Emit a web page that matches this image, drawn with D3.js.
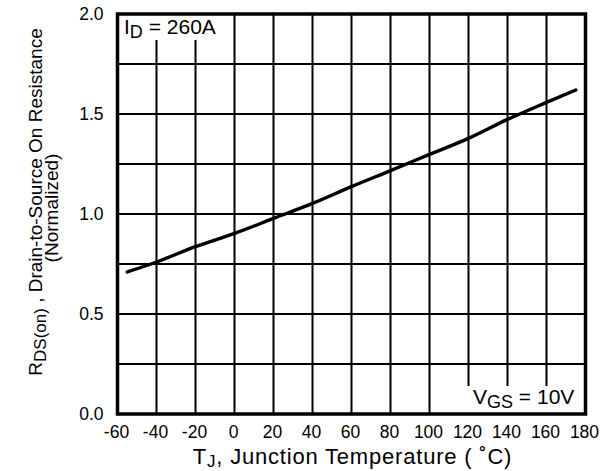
<!DOCTYPE html>
<html><head><meta charset="utf-8">
<script src="https://cdn.jsdelivr.net/npm/d3@7"></script>
<style>body{margin:0;background:#fff;} text{font-family:"Liberation Sans",Arial,sans-serif;fill:#000;}</style>
</head><body>
<svg id="c" width="602" height="471"></svg>
<script>
const temps = [-55, -40, -20, 0, 20, 40, 60, 80, 100, 120, 140, 160, 175];
const rdson = [0.71, 0.76, 0.837, 0.903, 0.978, 1.053, 1.137, 1.217, 1.298, 1.378, 1.473, 1.558, 1.62];
const xTicks = [-60, -40, -20, 0, 20, 40, 60, 80, 100, 120, 140, 160, 180];
const yTicks = [0, 0.5, 1.0, 1.5, 2.0];
const yGrid = [0, 0.25, 0.5, 0.75, 1.0, 1.25, 1.5, 1.75, 2.0];

const svg = d3.select("#c");
const L = 117.5, T = 14, W = 468, H = 400;
const x = d3.scaleLinear().domain([-60, 180]).range([L, L + W]);
const y = d3.scaleLinear().domain([0, 2]).range([T + H, T]);

const g = svg.append("g");
// grid
g.selectAll(".vg").data(xTicks).join("line")
  .attr("x1", d => x(d)).attr("x2", d => x(d)).attr("y1", y(0)).attr("y2", y(2))
  .attr("stroke", "#000").attr("stroke-width", 2);
g.selectAll(".hg").data(yGrid).join("line")
  .attr("y1", d => y(d)).attr("y2", d => y(d)).attr("x1", x(-60)).attr("x2", x(180))
  .attr("stroke", "#000").attr("stroke-width", 2);

// label masks
g.append("rect").attr("x", x(-60)).attr("y", y(2)).attr("width", x(-10) - x(-60)).attr("height", y(1.87) - y(2)).attr("fill", "#fff");
g.append("rect").attr("x", x(110)).attr("y", y(0.14)).attr("width", x(180) - x(110)).attr("height", y(0) - y(0.14)).attr("fill", "#fff");

// frame
g.append("rect").attr("x", x(-60)).attr("y", y(2)).attr("width", W).attr("height", H)
  .attr("fill", "none").attr("stroke", "#000").attr("stroke-width", 3.5);

// data line
const line = d3.line().x((d, i) => x(temps[i])).y(d => y(d)).curve(d3.curveMonotoneX);
g.append("path").datum(rdson).attr("d", line).attr("fill", "none")
  .attr("stroke", "#000").attr("stroke-width", 3.4).attr("stroke-linecap", "round");

// tick labels
g.selectAll(".xt").data(xTicks).join("text")
  .attr("x", d => x(d) - 1).attr("y", y(0) + 23.5).attr("text-anchor", "middle")
  .attr("font-size", 17.5).text(d => d);
g.selectAll(".yt").data(yTicks).join("text")
  .attr("x", x(-60) - 14).attr("y", d => y(d) + 6).attr("text-anchor", "end")
  .attr("font-size", 17.5).text(d => d.toFixed(1));

// annotations
const id = g.append("text").attr("x", 124).attr("y", 34).attr("font-size", 21);
id.append("tspan").text("I");
id.append("tspan").attr("font-size", 18).attr("dy", 4).text("D");
id.append("tspan").attr("dy", -4).text(" = 260A");

const vg = g.append("text").attr("x", 473).attr("y", 404).attr("font-size", 21);
vg.append("tspan").text("V");
vg.append("tspan").attr("font-size", 18).attr("dy", 4).text("GS");
vg.append("tspan").attr("dy", -4).text(" = 10V");

// axis titles
const xt = g.append("text").attr("x", 352.5).attr("y", 464).attr("text-anchor", "middle")
  .attr("font-size", 22).attr("letter-spacing", 0.8);
xt.append("tspan").text("T");
xt.append("tspan").attr("font-size", 17).attr("dy", 3).text("J");
xt.append("tspan").attr("dy", -3).text(", Junction Temperature ( ˚C)");

const yt = g.append("text").attr("transform", "translate(42,202) rotate(-90)").attr("text-anchor", "middle").attr("font-size", 19);
yt.append("tspan").text("R");
yt.append("tspan").attr("font-size", 17).attr("dy", 4).text("DS(on)");
yt.append("tspan").attr("dy", -4).text(" , Drain-to-Source On Resistance");
g.append("text").attr("transform", "translate(58,208) rotate(-90)").attr("text-anchor", "middle").attr("font-size", 19).text("(Normalized)");
</script>
</body></html>
